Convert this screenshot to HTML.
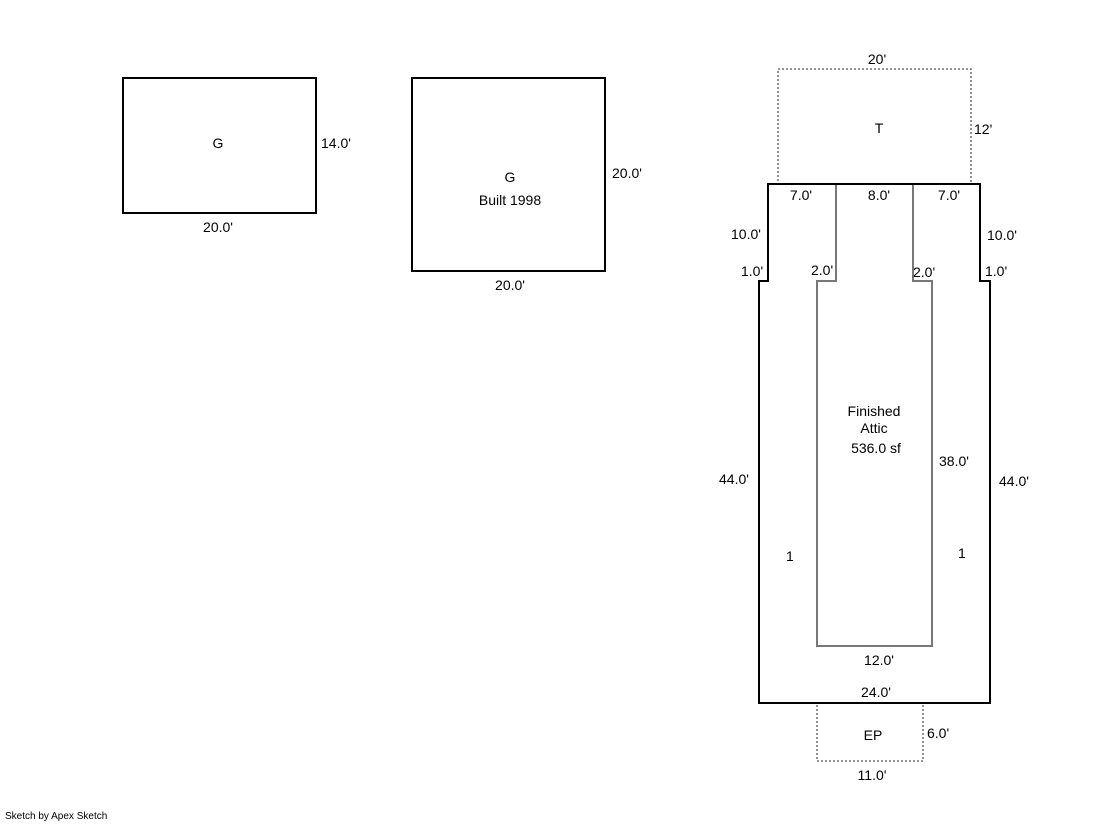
<!DOCTYPE html>
<html><head><style>
body{margin:0;background:#fff}
svg text{font-family:"Liberation Sans",Arial,sans-serif;font-size:14px;fill:#000}
</style></head><body>
<svg width="1119" height="821" xmlns="http://www.w3.org/2000/svg">
<rect x="123" y="78" width="193" height="135" fill="none" stroke="#000" stroke-width="2"/>
<text x="218" y="148" text-anchor="middle">G</text>
<text x="321" y="148">14.0'</text>
<text x="218" y="232" text-anchor="middle">20.0'</text>
<rect x="412" y="78" width="193" height="193" fill="none" stroke="#000" stroke-width="2"/>
<text x="510" y="182" text-anchor="middle">G</text>
<text x="510" y="205" text-anchor="middle">Built 1998</text>
<text x="612" y="178">20.0'</text>
<text x="510" y="290" text-anchor="middle">20.0'</text>
<rect x="778" y="69" width="193" height="115" fill="none" stroke="#555" stroke-width="1.3" stroke-dasharray="2,2"/>
<text x="877" y="64" text-anchor="middle">20'</text>
<text x="879" y="133" text-anchor="middle">T</text>
<text x="974" y="134">12'</text>
<rect x="817" y="703" width="106" height="58" fill="none" stroke="#555" stroke-width="1.3" stroke-dasharray="2,2"/>
<text x="873" y="740" text-anchor="middle">EP</text>
<text x="927" y="738">6.0'</text>
<text x="872" y="780" text-anchor="middle">11.0'</text>
<path d="M836 184 V281 H817 V646 H932 V281 H913 V184" fill="none" stroke="#777" stroke-width="2"/>
<path d="M768 184 H980 V281 H990 V703 H759 V281 H768 Z" fill="none" stroke="#000" stroke-width="2"/>
<text x="801" y="200" text-anchor="middle">7.0'</text>
<text x="879" y="200" text-anchor="middle">8.0'</text>
<text x="949" y="200" text-anchor="middle">7.0'</text>
<text x="731" y="239">10.0'</text>
<text x="987" y="240">10.0'</text>
<text x="741" y="276">1.0'</text>
<text x="985" y="276">1.0'</text>
<text x="811" y="275">2.0'</text>
<text x="913" y="277">2.0'</text>
<text x="874" y="416" text-anchor="middle">Finished</text>
<text x="874" y="433" text-anchor="middle">Attic</text>
<text x="876" y="453" text-anchor="middle">536.0 sf</text>
<text x="939" y="466">38.0'</text>
<text x="719" y="484">44.0'</text>
<text x="999" y="486">44.0'</text>
<text x="786" y="561">1</text>
<text x="958" y="558">1</text>
<text x="879" y="665" text-anchor="middle">12.0'</text>
<text x="876" y="697" text-anchor="middle">24.0'</text>
<text x="5" y="819" style="font-size:10px">Sketch by Apex Sketch</text>
</svg>
</body></html>
